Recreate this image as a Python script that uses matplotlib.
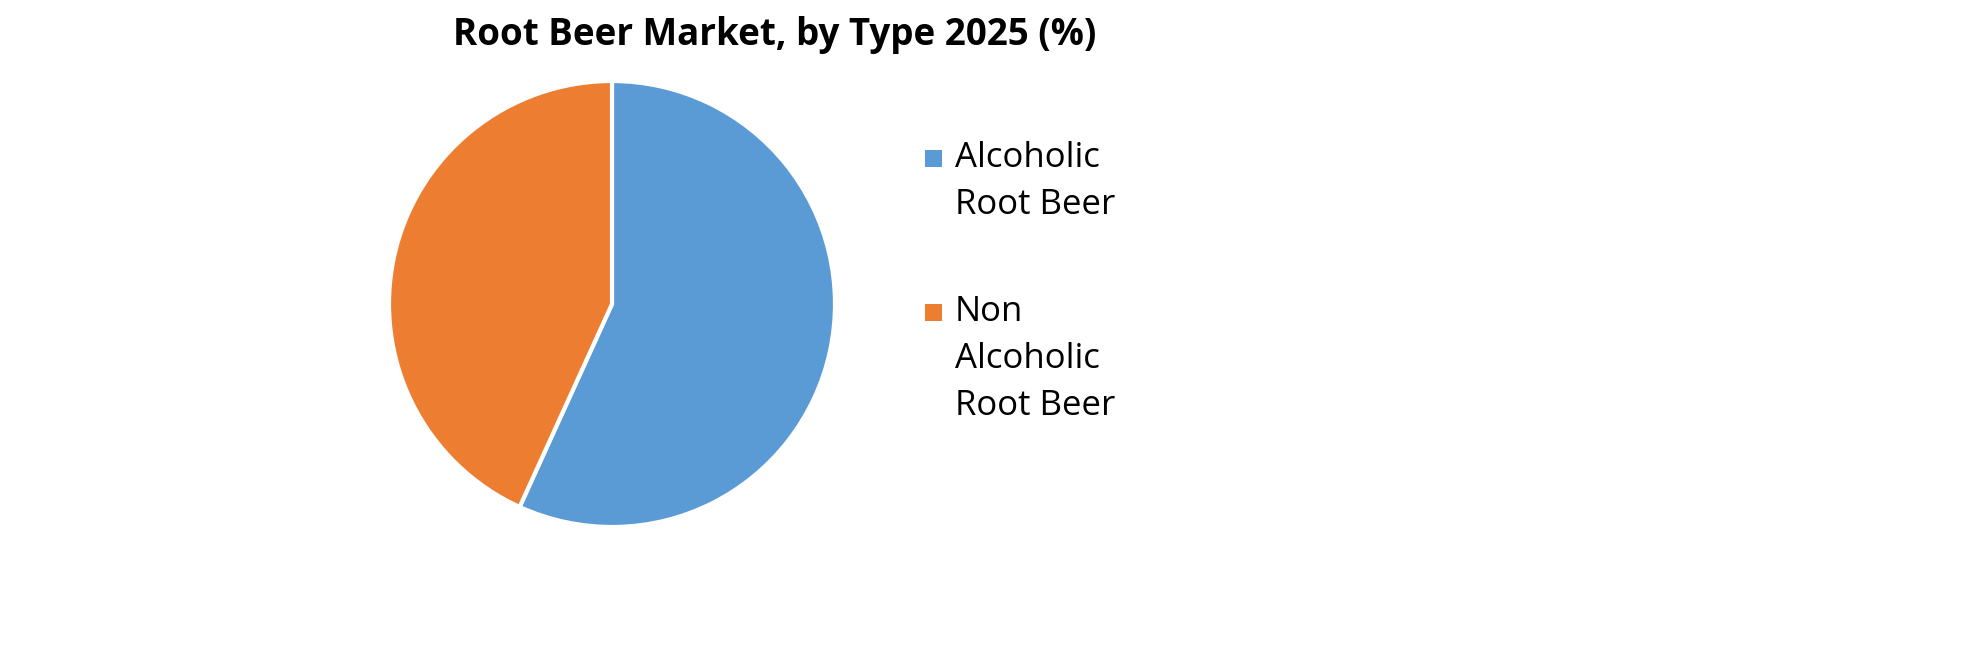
import matplotlib.pyplot as plt
from matplotlib.patches import Rectangle

# data
types = ["Alcoholic\nRoot Beer", "Non\nAlcoholic\nRoot Beer"]
shares = [56.8, 43.2]
colors = ["#5B9BD5", "#ED7D31"]

plt.rcParams['font.family'] = ['Open Sans', 'DejaVu Sans']

W, H = 1980, 671
fig = plt.figure(figsize=(W / 100, H / 100), dpi=100)

cx, cy, r = 612, 304, 223
ax = fig.add_axes([(cx - r) / W, (H - cy - r) / H, 2 * r / W, 2 * r / H])
ax.pie(shares, colors=colors, startangle=90, counterclock=False,
       wedgeprops={"edgecolor": "white", "linewidth": 3})
ax.set_xlim(-1.0, 1.0)
ax.set_ylim(-1.0, 1.0)
ax.set_aspect("equal")

fig.text(775 / W, 1 - 35 / H, "Root Beer Market, by Type 2025 (%)",
         ha="center", va="center", fontsize=26.5, fontweight="bold")

# legend drawn by hand so the marker sits on the first line
line_h = 47
starts = [158, 312]
for lab, col, y in zip(types, colors, starts):
    sq = 17
    fig.patches.append(Rectangle((925 / W, 1 - (y + sq / 2) / H), sq / W, sq / H,
                                 transform=fig.transFigure, facecolor=col,
                                 edgecolor="none"))
    for k, part in enumerate(lab.split("\n")):
        fig.text(955 / W, 1 - (y + k * line_h) / H, part,
                 ha="left", va="center", fontsize=25)

fig.savefig("out.png", dpi=100, facecolor="white")
